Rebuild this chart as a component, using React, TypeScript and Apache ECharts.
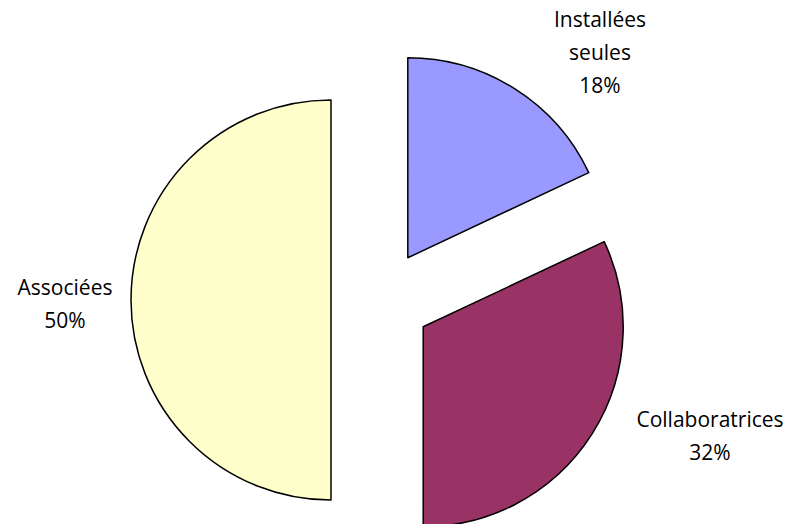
import React, { useEffect, useRef } from "react";
import * as echarts from "echarts";

const categories = ["Installées\nseules", "Collaboratrices", "Associées"];
const values = [18, 32, 50];
const colors = ["#9999FF", "#993366", "#FFFFCC"];
const labelAnchors = [
  [600, 52],
  [710, 435],
  [65, 303],
];

export default function App() {
  const ref = useRef<HTMLDivElement>(null);
  useEffect(() => {
    if (!ref.current) return;
    const chart = echarts.init(ref.current, null, { renderer: "svg" });
    chart.setOption({
      animation: false,
      backgroundColor: "#ffffff",
      graphic: categories.map((c, i) => ({
        type: "text",
        x: labelAnchors[i][0],
        y: labelAnchors[i][1],
        silent: true,
        style: {
          text: `${c}\n${values[i]}%`,
          fill: "#000000",
          fontFamily: "Open Sans",
          fontSize: 21,
          lineHeight: 33,
          align: "center",
          verticalAlign: "middle",
        },
      })),
      series: [
        {
          type: "pie",
          center: [381, 300],
          radius: [0, 200],
          startAngle: 90,
          clockwise: true,
          selectedMode: "multiple",
          selectedOffset: 50,
          silent: true,
          emphasis: { disabled: true },
          itemStyle: { borderColor: "#000000", borderWidth: 1.5 },
          labelLine: { show: false },
          label: { show: false },
          data: categories.map((c, i) => ({
            name: c,
            value: values[i],
            selected: true,
            itemStyle: { color: colors[i] },
          })),
        },
      ],
    });
    return () => chart.dispose();
  }, []);
  return (
    <div
      ref={ref}
      style={{ position: "fixed", left: 0, top: 0, width: 797, height: 524 }}
    />
  );
}
